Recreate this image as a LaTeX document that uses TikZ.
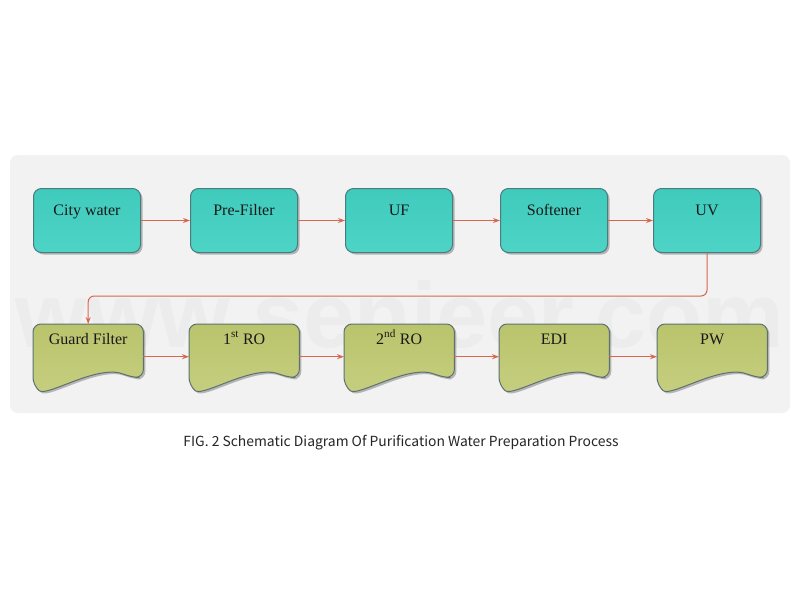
\documentclass[tikz,border=0pt]{standalone}
\usepackage{fontspec}
\setmainfont{Liberation Serif}
\newfontfamily\capfont{Noto Sans CJK SC}
\newfontfamily\wmfont{Liberation Sans}
\usetikzlibrary{shadows,calc,arrows.meta}
\pgfdeclarelayer{bg}
\pgfdeclarelayer{mid}
\pgfsetlayers{bg,mid,main}

\definecolor{panel}{HTML}{F2F2F2}
\definecolor{tealA}{HTML}{3FCBBC}
\definecolor{tealB}{HTML}{4ED4C6}
\definecolor{tealedge}{HTML}{4A7C7E}
\definecolor{oliveA}{HTML}{BAC46C}
\definecolor{oliveB}{HTML}{C5CF80}
\definecolor{oliveedge}{HTML}{5E7070}
\definecolor{arr}{HTML}{D9674E}
\definecolor{wm}{HTML}{ECECEC}

\newcommand\docshape[1]{%
  \begin{pgfonlayer}{mid}
    \path[docstyle] ($(#1.north west)+(0,20)$) |- (#1.north east) -- (#1.south east)
      -- ($(#1.south east)+(-12,0)$)
      .. controls ($(#1.south west)+(65,-14)$) and ($(#1.south west)+(14,20)$) ..
      ($(#1.south west)+(0,8)$) -- cycle;
  \end{pgfonlayer}}

\begin{document}
\begin{tikzpicture}[x=1pt,y=-1pt,
  topbox/.style={draw=tealedge, line width=1pt, rounded corners=8pt,
    top color=tealA, bottom color=tealB,
    minimum width=107pt, minimum height=64pt, inner ysep=0pt,
    text height=27pt, text depth=37pt, anchor=north west,
    font=\fontsize{16}{18}\selectfont, text=black!90,
    drop shadow={shadow xshift=2pt, shadow yshift=-2pt, fill=black, opacity=0.25}},
  docnode/.style={minimum width=110pt, minimum height=53pt, inner ysep=0pt,
    text height=20pt, text depth=33pt, anchor=north west,
    font=\fontsize{16}{18}\selectfont, text=black!90},
  docstyle/.style={draw=oliveedge, line width=1pt, rounded corners=8pt,
    top color=oliveA, bottom color=oliveB,
    drop shadow={shadow xshift=2pt, shadow yshift=-2pt, fill=black, opacity=0.25}},
  conn/.style={draw=arr, line width=1pt, -{Stealth[length=7pt,width=5pt]}}
  ]
\useasboundingbox (0,0) rectangle (800,600);
\begin{pgfonlayer}{bg}
  \fill[white] (0,0) rectangle (800,600);
  \fill[panel, rounded corners=8pt] (10,155) rectangle (790,413);
  \node[font=\wmfont\bfseries\fontsize{92}{92}\selectfont, text=wm, anchor=base] (wmark) at (400,347) {www.senjeer.com};
\end{pgfonlayer}

% top row
\node[topbox] (cw) at (33,188) {City water};
\node[topbox] (pf) at (190,188) {Pre-Filter};
\node[topbox] (uf) at (345,188) {UF};
\node[topbox] (sf) at (500,188) {Softener};
\node[topbox] (uv) at (653,188) {UV};

% bottom row
\node[docnode] (gf) at (33,324) {Guard Filter};
\node[docnode] (ro1) at (189,324) {1\textsuperscript{st} RO};
\node[docnode] (ro2) at (344,324) {2\textsuperscript{nd} RO};
\node[docnode] (edi) at (499,324) {EDI};
\node[docnode] (pw) at (657,324) {PW};
\docshape{gf}
\docshape{ro1}
\docshape{ro2}
\docshape{edi}
\docshape{pw}

% connectors
\draw[conn] (cw.east) -- (pf.west);
\draw[conn] (pf.east) -- (uf.west);
\draw[conn] (uf.east) -- (sf.west);
\draw[conn] (sf.east) -- (uv.west);
\draw[conn, rounded corners=6pt] (uv.south) -- ++(0,43) -| (gf.north);
\draw[conn] ([yshift=-6pt]gf.east) -- ([yshift=-6pt]ro1.west);
\draw[conn] ([yshift=-6pt]ro1.east) -- ([yshift=-6pt]ro2.west);
\draw[conn] ([yshift=-6pt]ro2.east) -- ([yshift=-6pt]edi.west);
\draw[conn] ([yshift=-6pt]edi.east) -- ([yshift=-6pt]pw.west);

% caption
\node[font=\capfont\fontsize{13.9}{16}\selectfont, text=black!85, anchor=base] (cap) at (401,446)
  {FIG. 2 Schematic Diagram Of Purification Water Preparation Process};
\end{tikzpicture}
\end{document}
